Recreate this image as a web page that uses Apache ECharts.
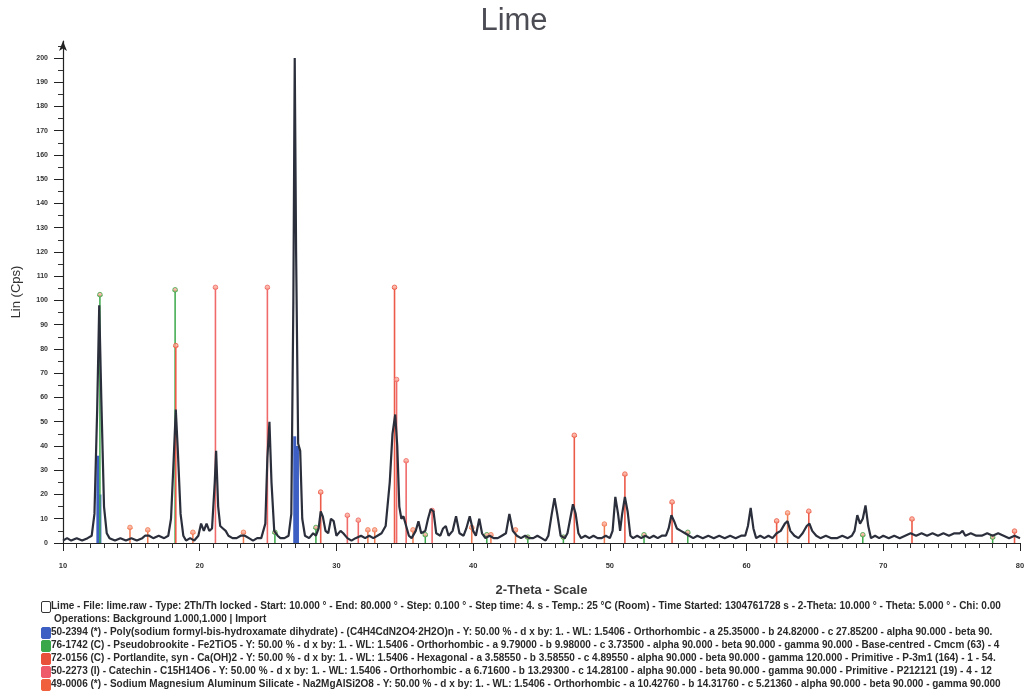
<!DOCTYPE html>
<html>
<head>
<meta charset="utf-8">
<script src="https://cdn.jsdelivr.net/npm/echarts@6/dist/echarts.min.js"></script>
<style>
html,body{margin:0;padding:0;background:#fff;}
#chart{width:1028px;height:697px;}
</style>
</head>
<body>
<div id="chart"></div>
<script>
// ---- data ----
var chartTitle = 'Lime';
var xAxisName = '2-Theta - Scale';
var yAxisName = 'Lin (Cps)';
var xTicks = [10, 20, 30, 40, 50, 60, 70, 80];
var yTicks = [0,10,20,30,40,50,60,70,80,90,100,110,120,130,140,150,160,170,180,190,200];

// measured scan (2-theta, counts)
var rawScan = [
[10.0,1],[10.3,2],[10.6,1],[11.0,2],[11.4,1],[11.8,2],[12.1,3],[12.3,12],[12.5,55],[12.65,98],[12.8,60],[13.0,15],[13.2,4],[13.4,2],[13.8,1],
[14.2,2],[14.6,1],[15.0,2],[15.4,1],[15.8,2],[16.0,3],[16.3,3],[16.6,2],[17.0,3],[17.4,2],[17.7,3],[17.9,10],[18.1,35],[18.25,55],[18.4,38],[18.6,12],[18.8,3],
[19.0,1],[19.3,2],[19.6,1],[19.9,3],[20.1,8],[20.3,5],[20.5,8],[20.7,5],[20.9,6],[21.1,25],[21.2,38],[21.35,15],[21.5,7],[21.7,6],[21.9,5],[22.1,3],[22.4,2],[22.7,2],
[23.0,3],[23.3,3],[23.6,2],[23.9,1],[24.2,2],[24.5,2],[24.8,8],[24.95,35],[25.1,50],[25.25,25],[25.45,5],[25.7,3],[25.9,2],[26.2,2],[26.5,3],[26.7,12],[26.85,100],[26.95,200],[27.05,120],[27.2,41],[27.35,38],[27.5,10],[27.7,3],
[28.0,2],[28.3,4],[28.5,3],[28.7,6],[28.85,13],[29.0,11],[29.2,5],[29.4,4],[29.6,10],[29.8,9],[30.0,3],[30.3,5],[30.5,4],[30.8,2],[31.1,1],[31.4,2],[31.8,3],[32.1,2],[32.4,3],[32.7,2],
[33.0,3],[33.3,4],[33.6,7],[33.9,25],[34.1,45],[34.3,53],[34.45,40],[34.6,15],[34.75,10],[34.9,11],[35.1,7],[35.3,3],[35.5,2],[35.8,5],[36.0,9],[36.2,4],[36.5,5],[36.7,10],[36.9,14],[37.1,13],[37.3,4],[37.6,3],[37.8,6],[38.0,7],[38.2,3],[38.5,5],[38.75,11],[39.0,4],[39.3,3],[39.5,6],[39.75,11],
[40.0,5],[40.2,3],[40.45,10],[40.65,4],[40.9,2],[41.2,3],[41.5,2],[41.8,2],[42.1,3],[42.4,4],[42.65,12],[42.9,5],[43.2,3],[43.5,2],[43.8,3],[44.1,2],[44.4,2],[44.7,3],[45.0,2],[45.3,1],[45.5,3],[45.75,12],[45.95,18.5],[46.15,12],[46.4,3],[46.7,2],[46.9,4],[47.1,10],[47.3,16],[47.5,12],[47.7,4],[47.9,2],
[48.2,3],[48.5,2],[48.8,3],[49.1,2],[49.4,2],[49.7,3],[50.0,2],[50.2,5],[50.4,19],[50.6,12],[50.75,5],[50.9,12],[51.1,19],[51.3,13],[51.5,3],[51.7,2],[52.0,3],[52.3,2],[52.6,3],[52.9,2],[53.2,3],[53.5,2],[53.8,3],[54.1,3],[54.3,6],[54.5,11.5],[54.7,9],[54.9,6],[55.2,5],[55.5,4],[55.8,3],
[56.1,2],[56.4,3],[56.8,2],[57.2,3],[57.6,2],[58.0,3],[58.4,2],[58.8,3],[59.2,2],[59.6,3],[59.9,3],[60.1,7],[60.3,14.5],[60.5,6],[60.7,2],[61.0,3],[61.3,2],[61.6,3],[61.9,2],[62.2,4],[62.5,5],[62.8,8],[63.0,9],[63.2,5],[63.5,3],[63.8,2],[64.1,4],[64.4,7],[64.6,8],[64.8,5],[65.1,3],[65.4,2],[65.8,3],
[66.2,2],[66.6,2],[67.0,3],[67.4,2],[67.7,3],[67.9,5],[68.1,11.5],[68.3,8],[68.5,10],[68.7,15.5],[68.9,7],[69.1,2],[69.4,3],[69.7,2],[70.0,3],[70.4,2],[70.8,3],[71.2,2],[71.6,3],[72.0,4],[72.4,3],[72.8,4],[73.2,3],[73.6,4],[74.0,3],[74.4,4],[74.8,3],[75.2,4],[75.6,4],[75.8,5],[76.0,3],[76.4,4],[76.8,3],[77.2,3],[77.6,4],[78.0,3],[78.4,4],[78.8,3],[79.2,2],[79.6,3],[80.0,2]
];

// reference patterns (2-theta, height)
var phaseBlue   = [[12.55,36],[12.7,20],[26.95,44],[27.15,40]];
var phaseGreen  = [[12.7,102],[18.2,104],[25.5,4],[28.5,6],[36.5,3],[41.0,3],[44.0,2],[46.6,2],[52.5,3],[55.7,4],[68.5,3],[78.0,2]];
var phaseRed    = [[18.25,81],[28.85,20.6],[34.25,105],[47.4,44],[51.1,28],[54.55,16.5],[62.2,8.7],[64.55,12.7],[72.1,9.5],[79.6,4.5]];
var phasePink   = [[21.15,105],[24.95,105],[34.4,67],[35.1,33.5],[30.8,11],[31.6,9],[37.0,13]];
var phaseOrange = [[14.9,6],[16.2,5],[19.5,4],[23.2,4],[32.3,5],[32.8,5],[35.6,5],[39.9,6],[41.3,3],[43.1,5],[49.6,7.4],[63.0,12]];

var legendLines = [
  'Lime - File: lime.raw - Type: 2Th/Th locked - Start: 10.000 ° - End: 80.000 ° - Step: 0.100 ° - Step time: 4. s - Temp.: 25 °C (Room) - Time Started: 1304761728 s - 2-Theta: 10.000 ° - Theta: 5.000 ° - Chi: 0.00',
  'Operations: Background 1.000,1.000 | Import',
  '50-2394 (*) - Poly(sodium formyl-bis-hydroxamate dihydrate) - (C4H4CdN2O4·2H2O)n - Y: 50.00 % - d x by: 1. - WL: 1.5406 - Orthorhombic - a 25.35000 - b 24.82000 - c 27.85200 - alpha 90.000 - beta 90.',
  '76-1742 (C) - Pseudobrookite - Fe2TiO5 - Y: 50.00 % - d x by: 1. - WL: 1.5406 - Orthorhombic - a 9.79000 - b 9.98000 - c 3.73500 - alpha 90.000 - beta 90.000 - gamma 90.000 - Base-centred - Cmcm (63) - 4',
  '72-0156 (C) - Portlandite, syn - Ca(OH)2 - Y: 50.00 % - d x by: 1. - WL: 1.5406 - Hexagonal - a 3.58550 - b 3.58550 - c 4.89550 - alpha 90.000 - beta 90.000 - gamma 120.000 - Primitive - P-3m1 (164) - 1 - 54.',
  '50-2273 (I) - Catechin - C15H14O6 - Y: 50.00 % - d x by: 1. - WL: 1.5406 - Orthorhombic - a 6.71600 - b 13.29300 - c 14.28100 - alpha 90.000 - beta 90.000 - gamma 90.000 - Primitive - P212121 (19) - 4 - 12',
  '49-0006 (*) - Sodium Magnesium Aluminum Silicate - Na2MgAlSi2O8 - Y: 50.00 % - d x by: 1. - WL: 1.5406 - Orthorhombic - a 10.42760 - b 14.31760 - c 5.21360 - alpha 90.000 - beta 90.000 - gamma 90.000'
];
var legendColors = ['#ffffff', null, '#3d5fc4', '#3aa84a', '#e8503a', '#ee5a6a', '#f0603c'];

// ---- chart ----
var chart = echarts.init(document.getElementById('chart'), null, {renderer: 'canvas'});

function stickRenderer(color, lineWidth, marker) {
  return function (params, api) {
    var x = api.value(0), v = api.value(1);
    var p0 = api.coord([x, 0]);
    var p1 = api.coord([x, v]);
    var children = [{
      type: 'line',
      shape: {x1: p0[0], y1: p0[1], x2: p1[0], y2: p1[1]},
      style: {stroke: color, lineWidth: lineWidth}
    }];
    if (marker) {
      children.push({type: 'line', shape: {x1: p1[0] - 2.5, y1: p1[1], x2: p1[0] + 2.5, y2: p1[1]}, style: {stroke: color, lineWidth: 1.2}});
      children.push({type: 'circle', shape: {cx: p1[0], cy: p1[1] - 1, r: 2.3}, style: {fill: 'rgba(250,170,150,0.8)', stroke: color, lineWidth: 0.8}});
    }
    return {type: 'group', children: children};
  };
}

function stickSeries(name, data, color, lw, marker) {
  return {
    name: name, type: 'custom', data: data,
    renderItem: stickRenderer(color, lw, marker),
    encode: {x: 0, y: 1}, silent: true, z: 2
  };
}

var graphics = [];
var lineY = [607, 620, 633, 646, 659, 672, 685];
legendLines.forEach(function (t, i) {
  var tx = i === 1 ? 54 : 51;
  graphics.push({
    type: 'text', left: tx, top: lineY[i] - 6,
    style: {text: t, fill: '#2a2a2a', font: 'bold 10px "Liberation Sans", Arial, sans-serif', width: 1022 - tx, overflow: 'truncate', ellipsis: ''}
  });
  if (legendColors[i]) {
    graphics.push({
      type: 'rect', left: 41, top: lineY[i] - 6, shape: {width: 9, height: 11, r: 1.5},
      style: {fill: legendColors[i], stroke: i === 0 ? '#333' : legendColors[i], lineWidth: 1}
    });
  }
});

var option = {
  backgroundColor: '#ffffff',
  animation: false,
  title: {
    text: chartTitle, left: 'center', top: 1,
    textStyle: {fontFamily: '"Liberation Sans", Arial, sans-serif', fontSize: 31, fontWeight: 'normal', color: '#4c4c54'}
  },
  grid: {left: 63, right: 8, top: 41, bottom: 154},
  xAxis: {
    type: 'value', min: 10, max: 80, interval: 10,
    name: xAxisName, nameLocation: 'middle', nameGap: 41,
    nameTextStyle: {fontFamily: '"Liberation Sans", Arial, sans-serif', fontSize: 13, fontWeight: 'bold', color: '#3a3a3a'},
    axisLine: {show: true, onZero: false, lineStyle: {color: '#222', width: 1.2}},
    axisTick: {show: true, length: 8, lineStyle: {color: '#222'}},
    minorTick: {show: true, splitNumber: 10, length: 5, lineStyle: {color: '#333'}},
    axisLabel: {fontSize: 7.5, fontWeight: 'bold', color: '#333', margin: 19, customValues: xTicks},
    splitLine: {show: false}
  },
  yAxis: {
    type: 'value', min: 0, max: 207, interval: 10,
    name: yAxisName, nameLocation: 'middle', nameGap: 40,
    nameTextStyle: {fontFamily: '"Liberation Sans", Arial, sans-serif', fontSize: 13, color: '#333'},
    axisLine: {show: true, onZero: false, symbol: ['none', 'arrow'], symbolSize: [6, 10], lineStyle: {color: '#222', width: 1.2}},
    axisTick: {show: true, length: 9, lineStyle: {color: '#222'}, customValues: yTicks},
    minorTick: {show: true, splitNumber: 2, length: 5, lineStyle: {color: '#333'}},
    axisLabel: {fontSize: 7, fontWeight: 'bold', color: '#333', margin: 15, customValues: yTicks},
    splitLine: {show: false}
  },
  graphic: graphics,
  series: [
    stickSeries('50-2394', phaseBlue, '#3d5fc4', 3, false),
    stickSeries('76-1742', phaseGreen, '#3aa84a', 1.5, true),
    stickSeries('72-0156', phaseRed, '#ec5a48', 1.6, true),
    stickSeries('50-2273', phasePink, '#f06a6a', 1.6, true),
    stickSeries('49-0006', phaseOrange, '#f07a50', 1.5, true),
    {
      name: 'Lime', type: 'line', data: rawScan, showSymbol: false, symbol: 'none',
      lineStyle: {color: '#2b2f3c', width: 2.2}, z: 3, silent: true
    }
  ]
};
chart.setOption(option);
</script>
</body>
</html>
